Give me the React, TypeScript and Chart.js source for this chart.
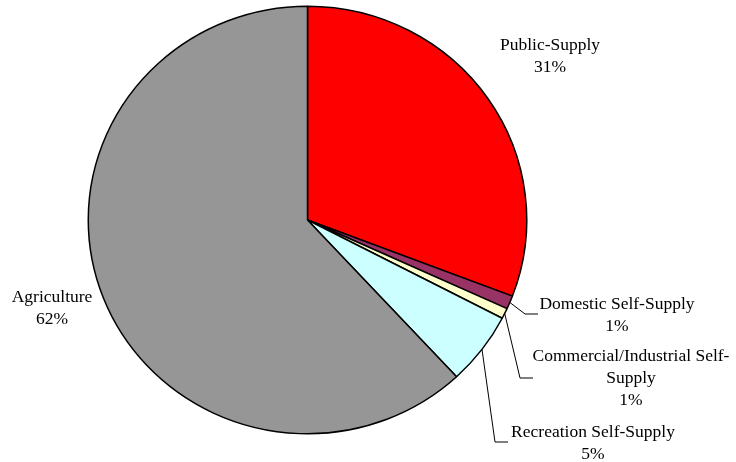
import React, { useEffect, useRef } from "react";
import { Chart, registerables } from "chart.js";

Chart.register(...registerables);

const categories = [
  "Public-Supply",
  "Domestic Self-Supply",
  "Commercial/Industrial Self-Supply",
  "Recreation Self-Supply",
  "Agriculture",
];
const values = [30.8, 1.0, 0.8, 5.5, 61.9];
const percentLabels = ["31%", "1%", "1%", "5%", "62%"];
const colors = ["#FF0000", "#993366", "#FFFFCC", "#CCFFFF", "#969696"];

// label layout (text lines, center x, first-line center y, optional leader elbow)
const labelLayout = [
  { lines: ["Public-Supply", percentLabels[0]], x: 550, y: 45 },
  { lines: ["Domestic Self-Supply", percentLabels[1]], x: 617, y: 304, elbow: [525, 314], end: 538 },
  { lines: ["Commercial/Industrial Self-", "Supply", percentLabels[2]], x: 631, y: 356, elbow: [520, 378], end: 533 },
  { lines: ["Recreation Self-Supply", percentLabels[3]], x: 593, y: 432, elbow: [495, 442], end: 508 },
  { lines: ["Agriculture", percentLabels[4]], x: 52, y: 297 },
];

const FONT = '17.5px "Liberation Serif", "Times New Roman", serif';
const LINE_H = 22;
const Y_SCALE = 0.975;

const squashPlugin = {
  id: "squash",
  beforeDatasetsDraw(chart: any) {
    const meta = chart.getDatasetMeta(0);
    const cy = meta.data[0] ? meta.data[0].y : 0;
    chart.ctx.save();
    chart.ctx.translate(0, cy);
    chart.ctx.scale(1, Y_SCALE);
    chart.ctx.translate(0, -cy);
  },
  afterDatasetsDraw(chart: any) {
    chart.ctx.restore();
  },
};

const labelPlugin = {
  id: "pieLabels",
  afterDraw(chart: any) {
    const ctx = chart.ctx;
    const meta = chart.getDatasetMeta(0);
    ctx.save();
    ctx.font = FONT;
    ctx.fillStyle = "#000";
    ctx.textAlign = "center";
    ctx.textBaseline = "middle";
    labelLayout.forEach((l: any, i: number) => {
      const arc = meta.data[i];
      if (l.elbow && arc) {
        const p = arc.getProps(["x", "y", "startAngle", "endAngle", "outerRadius"], true);
        const mid = (p.startAngle + p.endAngle) / 2;
        const sx = p.x + Math.cos(mid) * p.outerRadius;
        const sy = p.y + Math.sin(mid) * p.outerRadius * Y_SCALE;
        ctx.beginPath();
        ctx.strokeStyle = "#000";
        ctx.lineWidth = 1;
        ctx.moveTo(sx, sy);
        ctx.lineTo(l.elbow[0], l.elbow[1]);
        ctx.lineTo(l.end, l.elbow[1]);
        ctx.stroke();
      }
      l.lines.forEach((t: string, k: number) => {
        ctx.fillText(t, l.x, l.y + k * LINE_H);
      });
    });
    ctx.restore();
  },
};

export default function App() {
  const ref = useRef<HTMLCanvasElement>(null);
  useEffect(() => {
    if (!ref.current) return;
    const chart = new Chart(ref.current, {
      type: "pie",
      data: {
        labels: categories,
        datasets: [
          {
            data: values,
            backgroundColor: colors,
            borderColor: "#000",
            borderWidth: 1.5,
          },
        ],
      },
      options: {
        responsive: false,
        animation: false,
        layout: { padding: { left: 0, right: 121, top: 0, bottom: 22 } },
        plugins: {
          legend: { display: false },
          tooltip: { enabled: false },
        },
      },
      plugins: [squashPlugin, labelPlugin],
    });
    return () => chart.destroy();
  }, []);
  return (
    <div style={{ position: "absolute", left: 0, top: 0, width: 736, height: 462, background: "#fff" }}>
      <canvas ref={ref} width={736} height={462} />
    </div>
  );
}
